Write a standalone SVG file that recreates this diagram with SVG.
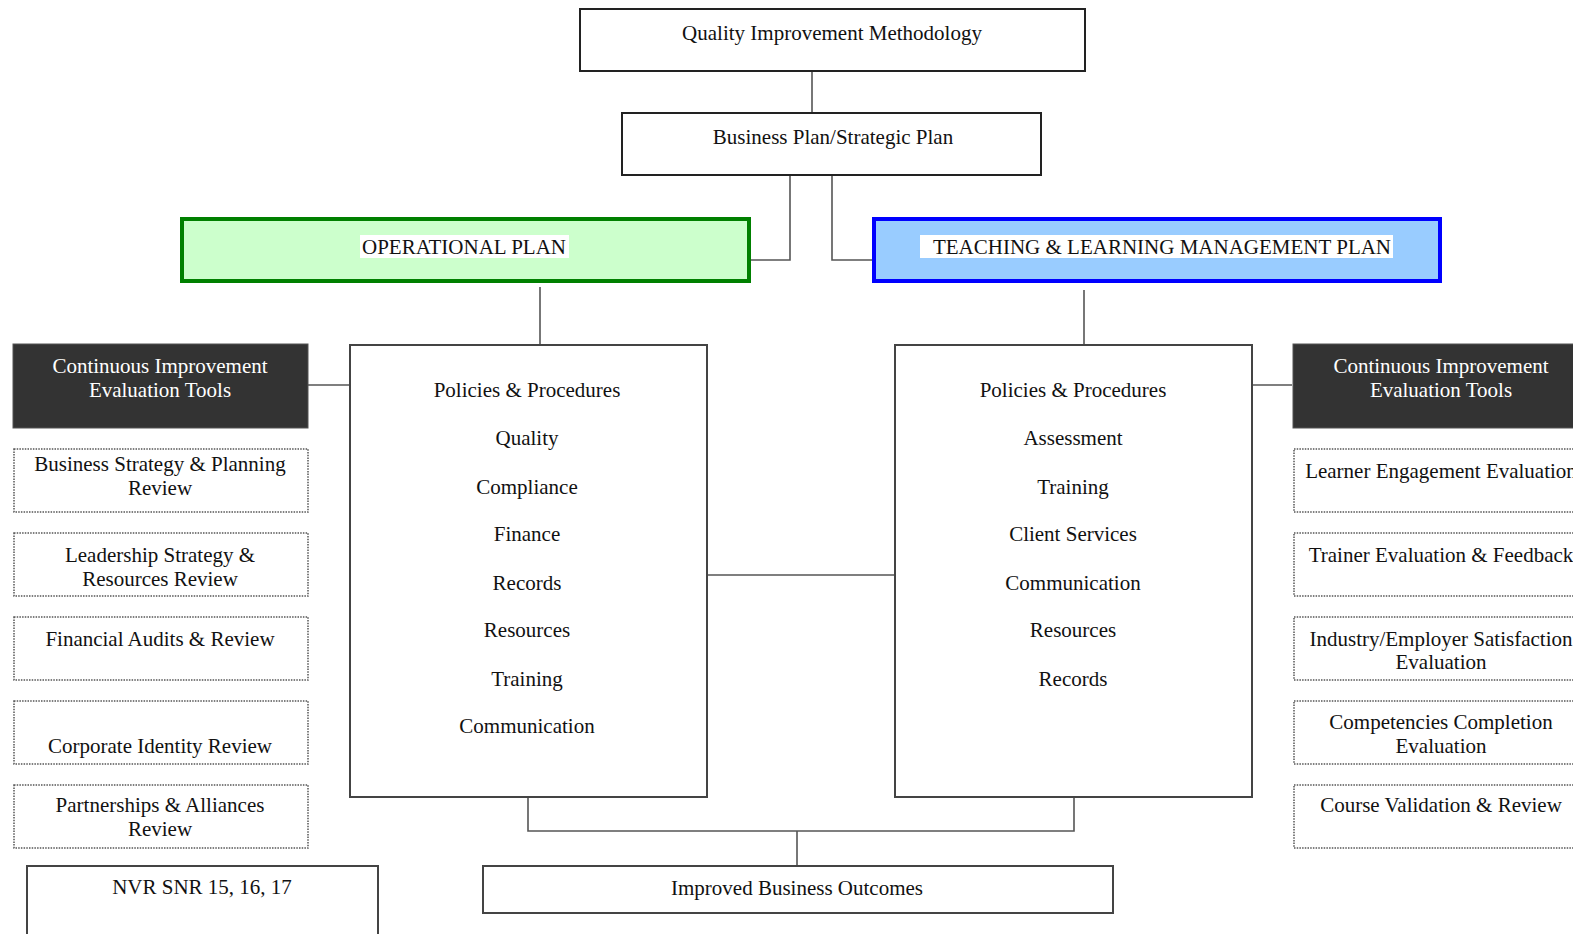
<svg xmlns="http://www.w3.org/2000/svg" width="1573" height="934" viewBox="0 0 1573 934">
<style>
text{font-family:"Liberation Serif","Times New Roman",serif;font-size:21px;fill:#111;text-anchor:middle}
.w{fill:#fff}
.box{fill:#fff;stroke:#222;stroke-width:2}
.cbox{fill:#fff;stroke:#444;stroke-width:2}
.dark{fill:#333;stroke:#555;stroke-width:1}
.dot{fill:#fff;stroke:#555;stroke-width:1.5;stroke-dasharray:1.5 1.2}
.conn{fill:none;stroke:#555;stroke-width:1.6}
</style>
<rect width="1573" height="934" fill="#fff"/>
<g id="connectors">
<path class="conn" d="M812,71 V113"/>
<path class="conn" d="M790,175 V260 H750"/>
<path class="conn" d="M832,175 V260 H873"/>
<path class="conn" d="M540,287 V345"/>
<path class="conn" d="M1084,290 V345"/>
<path class="conn" d="M307,385 H350"/>
<path class="conn" d="M1252,385 H1292"/>
<path class="conn" d="M707,575 H895"/>
<path class="conn" d="M528,797 V831 H1074 V797"/>
<path class="conn" d="M797,831 V866"/>
</g>
<g id="qim">
<rect class="box" x="580" y="9" width="505" height="62"/>
<text x="832" y="40">Quality Improvement Methodology</text>
</g>
<g id="bpsp">
<rect class="box" x="622" y="113" width="419" height="62"/>
<text x="833" y="144">Business Plan/Strategic Plan</text>
</g>
<g id="opplan">
<rect x="182" y="219" width="567" height="62" fill="#ccffcc" stroke="#008000" stroke-width="4"/>
<rect x="360" y="235" width="209" height="23" fill="#fff"/>
<text x="464" y="254">OPERATIONAL PLAN</text>
</g>
<g id="tlplan">
<rect x="874" y="219" width="566" height="62" fill="#99ccff" stroke="#0000ff" stroke-width="4"/>
<rect x="920" y="235" width="473" height="23" fill="#fff"/>
<text x="1162" y="254">TEACHING &amp; LEARNING MANAGEMENT PLAN</text>
</g>
<g id="opbox">
<rect class="cbox" x="350" y="345" width="357" height="452"/>
<text x="527" y="397">Policies &amp; Procedures</text>
<text x="527" y="445">Quality</text>
<text x="527" y="494">Compliance</text>
<text x="527" y="541">Finance</text>
<text x="527" y="590">Records</text>
<text x="527" y="637">Resources</text>
<text x="527" y="686">Training</text>
<text x="527" y="733">Communication</text>
</g>
<g id="tlbox">
<rect class="cbox" x="895" y="345" width="357" height="452"/>
<text x="1073" y="397">Policies &amp; Procedures</text>
<text x="1073" y="445">Assessment</text>
<text x="1073" y="494">Training</text>
<text x="1073" y="541">Client Services</text>
<text x="1073" y="590">Communication</text>
<text x="1073" y="637">Resources</text>
<text x="1073" y="686">Records</text>
</g>
<g id="citl">
<rect class="dark" x="13" y="344" width="295" height="84"/>
<text class="w" x="160" y="373">Continuous Improvement</text>
<text class="w" x="160" y="397">Evaluation Tools</text>
</g>
<g id="l1">
<rect class="dot" x="14" y="449" width="294" height="63"/>
<text x="160" y="471">Business Strategy &amp; Planning</text>
<text x="160" y="495">Review</text>
</g>
<g id="l2">
<rect class="dot" x="14" y="533" width="294" height="63"/>
<text x="160" y="562">Leadership Strategy &amp;</text>
<text x="160" y="586">Resources Review</text>
</g>
<g id="l3">
<rect class="dot" x="14" y="617" width="294" height="63"/>
<text x="160" y="646">Financial Audits &amp; Review</text>
</g>
<g id="l4">
<rect class="dot" x="14" y="701" width="294" height="63"/>
<text x="160" y="753">Corporate Identity Review</text>
</g>
<g id="l5">
<rect class="dot" x="14" y="785" width="294" height="63"/>
<text x="160" y="812">Partnerships &amp; Alliances</text>
<text x="160" y="836">Review</text>
</g>
<g id="nvr">
<rect class="cbox" x="27" y="866" width="351" height="80"/>
<text x="202" y="894">NVR SNR 15, 16, 17</text>
</g>
<g id="ibo">
<rect class="cbox" x="483" y="866" width="630" height="47"/>
<text x="797" y="895">Improved Business Outcomes</text>
</g>
<g id="citr">
<rect class="dark" x="1293" y="344" width="300" height="84"/>
<text class="w" x="1441" y="373">Continuous Improvement</text>
<text class="w" x="1441" y="397">Evaluation Tools</text>
</g>
<g id="r1">
<rect class="dot" x="1294" y="449" width="300" height="63"/>
<text x="1441" y="478">Learner Engagement Evaluation</text>
</g>
<g id="r2">
<rect class="dot" x="1294" y="533" width="300" height="63"/>
<text x="1441" y="562">Trainer Evaluation &amp; Feedback</text>
</g>
<g id="r3">
<rect class="dot" x="1294" y="617" width="300" height="63"/>
<text x="1441" y="646">Industry/Employer Satisfaction</text>
<text x="1441" y="669">Evaluation</text>
</g>
<g id="r4">
<rect class="dot" x="1294" y="701" width="300" height="63"/>
<text x="1441" y="729">Competencies Completion</text>
<text x="1441" y="753">Evaluation</text>
</g>
<g id="r5">
<rect class="dot" x="1294" y="785" width="300" height="63"/>
<text x="1441" y="812">Course Validation &amp; Review</text>
</g>
</svg>
